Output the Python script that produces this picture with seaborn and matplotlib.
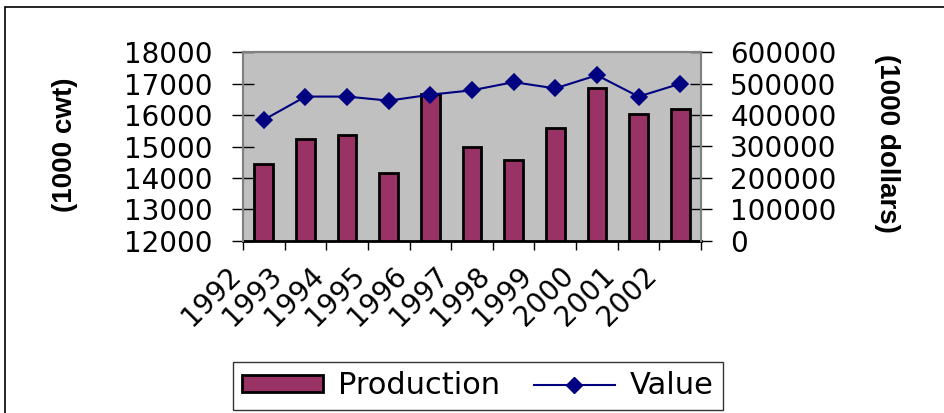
import numpy as np
import matplotlib
matplotlib.use("Agg")
import matplotlib.pyplot as plt
from matplotlib.patches import Patch, Rectangle
from matplotlib.lines import Line2D
from matplotlib.ticker import FuncFormatter
from matplotlib.transforms import ScaledTranslation
import seaborn as sns

years = ["1992", "1993", "1994", "1995", "1996", "1997",
         "1998", "1999", "2000", "2001", "2002"]
production = [14430, 15250, 15370, 14160, 16680, 14970,
              14560, 15580, 16850, 16050, 16180]   # 1000 cwt
value = [385000, 459000, 459000, 446000, 465000, 479000,
         505000, 485000, 527000, 459000, 500000]    # 1000 dollars

bar_color = "#993366"
line_color = "#000080"
plot_bg = "#C0C0C0"

plt.rcParams["font.family"] = ["DejaVu Sans"]

fig = plt.figure(figsize=(9.44, 4.13), dpi=100)
fig.patch.set_facecolor("white")
ax = fig.add_axes([243 / 944, 1 - 240.7 / 413, 458 / 944, 188.4 / 413])
ax.set_facecolor(plot_bg)

sns.barplot(x=years, y=production, color=bar_color, saturation=1,
            edgecolor="black", linewidth=2, width=0.45, ax=ax, zorder=2)

ax2 = ax.twinx()
sns.pointplot(x=years, y=value, ax=ax2, color=line_color, markers="D",
              markersize=8, linewidth=1.5, errorbar=None)

n = len(years)
ax.set_xlim(-0.5, n - 0.5)
ax.set_ylim(12000, 18000)
ax2.set_ylim(0, 600000)
ax.set_yticks(np.arange(12000, 18001, 1000))
ax2.set_yticks(np.arange(0, 600001, 100000))
ax.yaxis.set_major_formatter(FuncFormatter(lambda v, p: f"{int(v)}"))
ax2.yaxis.set_major_formatter(FuncFormatter(lambda v, p: f"{int(v)}"))

# category labels, with tick marks on the category boundaries
ax.set_xticks(np.arange(n))
ax.set_xticklabels(years, rotation=45, ha="right", va="top", fontsize=20)
ax.set_xticks(np.arange(-0.5, n), minor=True)
ax.tick_params(axis="x", which="major", length=0, pad=15)
ax.tick_params(axis="x", which="minor", length=6.5, width=1, direction="out", color="black")
shift = ScaledTranslation(-0.18, 0, fig.dpi_scale_trans)
for lbl in ax.get_xticklabels():
    lbl.set_transform(lbl.get_transform() + shift)

ax.tick_params(axis="y", which="major", length=16, width=1, direction="inout",
               labelsize=20, pad=14, color="black")
ax2.tick_params(axis="y", which="major", length=16, width=1, direction="inout",
                labelsize=20, pad=13, color="black")
ax.set_xlabel("")

for sp in ["left", "right", "top"]:
    ax.spines[sp].set_color("#808080")
    ax.spines[sp].set_linewidth(1.5)
    ax2.spines[sp].set_color("#808080")
    ax2.spines[sp].set_linewidth(1.5)
ax.spines["bottom"].set_color("black")
ax.spines["bottom"].set_linewidth(2)
ax2.spines["bottom"].set_visible(False)

ax.set_ylabel("(1000 cwt)", fontfamily="Liberation Sans", fontweight="bold",
              fontsize=20, va="center")
ax.yaxis.set_label_coords((65 - 243) / 458, (240.7 - 145) / 188.4)
ax2.set_ylabel("(1000 dollars)", fontfamily="Liberation Sans", fontweight="bold",
               fontsize=20, rotation=270, va="center")
ax2.yaxis.set_label_coords((887.5 - 243) / 458, (240.7 - 143.5) / 188.4)

handles = [
    Patch(facecolor=bar_color, edgecolor="black", linewidth=2),
    Line2D([], [], color=line_color, linewidth=1.5, marker="D", markersize=8),
]
leg = fig.legend(handles, ["Production", "Value"], loc="center",
                 bbox_to_anchor=(478 / 944, 1 - 386 / 413), ncol=2,
                 fontsize=22, frameon=True, fancybox=False, shadow=False,
                 handlelength=2.65, handleheight=0.46, handletextpad=0.5,
                 columnspacing=1.1, borderpad=0.3, borderaxespad=0)
leg.get_frame().set_edgecolor("black")
leg.get_frame().set_linewidth(1)

fig.patches.append(Rectangle((5 / 944, -0.05), 1.1, 1 - 7 / 413 + 0.05,
                             transform=fig.transFigure, fill=False,
                             edgecolor="black", linewidth=1.2))

fig.savefig("out.png", dpi=100)
